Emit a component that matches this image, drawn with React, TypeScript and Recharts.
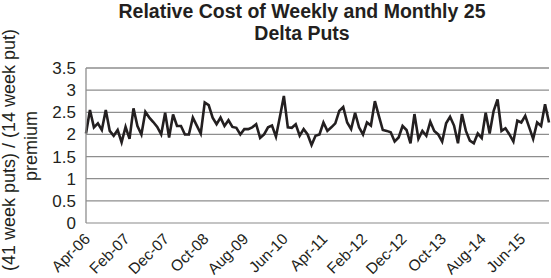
import React from "react";
import { LineChart, Line, XAxis, YAxis, CartesianGrid, Label } from "recharts";

// Monthly ratio of 41-week to 14-week 25-delta put premium, Apr-06 .. Jan-16
const ratioValues: number[] = [
  2.02, 2.55, 2.16, 2.25, 2.1, 2.55, 2.08, 1.97, 2.1, 1.82, 2.17, 1.9, 2.59, 2.19, 2.0, 2.51, 2.38, 2.28, 2.17, 2.0, 2.49,
  1.93, 2.45, 2.19, 2.19, 2.0, 2.0, 2.38, 2.2, 2.02, 2.72, 2.66, 2.38, 2.23, 2.38, 2.19, 2.32, 2.17, 2.15, 2.0, 2.12,
  2.12, 2.16, 2.23, 1.92, 2.0, 2.16, 2.2, 1.95, 2.4, 2.87, 2.16, 2.15, 2.23, 1.97, 2.12, 2.0, 1.76, 1.97, 2.0, 2.27,
  2.08, 2.16, 2.25, 2.53, 2.62, 2.27, 2.12, 2.49, 2.16, 2.0, 2.27, 2.2, 2.75, 2.42, 2.1, 2.08, 2.05, 1.84, 1.93, 2.19,
  2.1, 1.8, 2.46, 1.9, 2.08, 1.97, 2.29, 2.08, 2.0, 1.84, 2.25, 2.4, 2.2, 1.8, 2.46, 2.08, 1.86, 1.8, 2.02,
  1.92, 2.49, 2.02, 2.53, 2.79, 2.08, 2.14, 2.0, 1.84, 2.31, 2.27, 2.42, 2.16, 1.9, 2.27, 2.19, 2.68, 2.27,
];

const monthNames = ["Jan", "Feb", "Mar", "Apr", "May", "Jun", "Jul", "Aug", "Sep", "Oct", "Nov", "Dec"];
const startYear = 2006;
const startMonth = 3; // April

const monthLabels: string[] = ratioValues.map((_, i) => {
  const m = startMonth + i;
  const year = startYear + Math.floor(m / 12);
  return `${monthNames[m % 12]}-${String(year % 100).padStart(2, "0")}`;
});

const xTickLabels = [
  "Apr-06", "Feb-07", "Dec-07", "Oct-08", "Aug-09", "Jun-10",
  "Apr-11", "Feb-12", "Dec-12", "Oct-13", "Aug-14", "Jun-15",
];
const yTicks = [0, 0.5, 1, 1.5, 2, 2.5, 3, 3.5];

const chartData = monthLabels.map((month, i) => ({ month, ratio: ratioValues[i] }));

const FONT = "'Liberation Sans', Arial, Helvetica, sans-serif";
const INK = "#231f20";

const MonthTick = (props: any) => {
  const { x, y, payload } = props;
  return (
    <text
      transform={`translate(${x + 5},${y + 17}) rotate(-45)`}
      textAnchor="end"
      fontSize={15.5}
      fontFamily={FONT}
      fill={INK}
    >
      {payload.value}
    </text>
  );
};

const YTitle = () => (
  <g fontFamily={FONT} fill={INK} fontSize={18}>
    <text transform="translate(15,150) rotate(-90)" textAnchor="middle">
      (41 week puts) / (14 week put)
    </text>
    <text transform="translate(37,146) rotate(-90)" textAnchor="middle">
      premium
    </text>
  </g>
);

export default function App() {
  return (
    <div style={{ position: "absolute", left: 0, top: 0, width: 551, height: 278, background: "#fff" }}>
      <div
        style={{
          position: "absolute",
          left: 102,
          top: 0,
          width: 400,
          textAlign: "center",
          fontFamily: FONT,
          fontWeight: "bold",
          fontSize: 19.5,
          lineHeight: "22px",
          color: INK,
        }}
      >
        Relative Cost of Weekly and Monthly 25
        <br />
        Delta Puts
      </div>
      <LineChart
        width={551}
        height={278}
        data={chartData}
        margin={{ top: 68, right: 2, bottom: 0, left: 0 }}
      >
        <CartesianGrid vertical={false} stroke="#8e8e8e" strokeWidth={1.3} />
        <XAxis
          dataKey="month"
          ticks={xTickLabels}
          interval={0}
          tickLine={false}
          tickSize={0}
          tickMargin={0}
          axisLine={{ stroke: "#c4c4c4", strokeWidth: 2 }}
          tick={<MonthTick />}
          height={55}
        />
        <YAxis
          domain={[0, 3.5]}
          ticks={yTicks}
          interval={0}
          width={86}
          tickLine={false}
          tickSize={0}
          tickMargin={10}
          axisLine={{ stroke: "#8e8e8e", strokeWidth: 1.3 }}
          tick={{ fontSize: 17, fontFamily: FONT, fill: INK }}
        >
          <Label content={<YTitle />} />
        </YAxis>
        <Line
          type="linear"
          dataKey="ratio"
          stroke={INK}
          strokeWidth={2.6}
          dot={false}
          isAnimationActive={false}
        />
      </LineChart>
    </div>
  );
}
